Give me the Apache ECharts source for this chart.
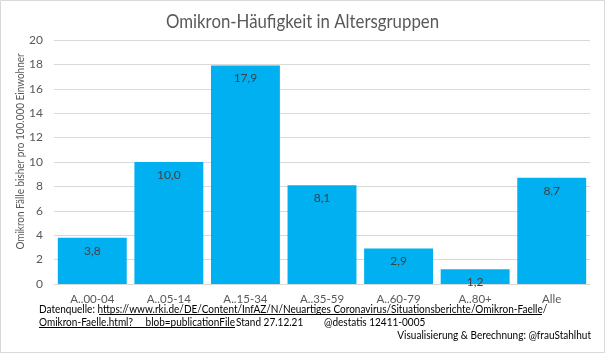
<!DOCTYPE html>
<html>
<head>
<meta charset="utf-8">
<script src="https://cdn.jsdelivr.net/npm/echarts@6/dist/echarts.min.js"></script>
<style>
  html, body { margin: 0; padding: 0; background: #fff; }
  #chart { width: 605px; height: 353px; }
</style>
</head>
<body>
<div id="chart"></div>
<script>
// Omikron-Häufigkeit nach Altersgruppe (Fälle pro 100.000 Einwohner)
const categories = ["A..00-04", "A..05-14", "A..15-34", "A..35-59", "A..60-79", "A..80+", "Alle"];
const values = [3.8, 10.0, 17.9, 8.1, 2.9, 1.2, 8.7];
const yTicks = { min: 0, max: 20, interval: 2 };

const FONT = "Lato, 'Liberation Sans', sans-serif";
const GREY = "#595959";
const fmt = (v) => v.toFixed(1).replace(".", ",");

const chart = echarts.init(document.getElementById("chart"), null, { renderer: "canvas" });

// Lato is wider than the original Calibri, so texts get squeezed horizontally
function txt(text, x, y, opt) {
  opt = opt || {};
  return {
    type: "text", x: x, y: y, scaleX: opt.scale || 0.955, rotation: opt.rotation || 0, silent: true,
    style: {
      text: text, fontFamily: FONT, fontSize: opt.size || 10.5, fill: opt.color || "#000",
      textAlign: opt.align || "left", textVerticalAlign: "middle",
    },
  };
}
function underline(x1, x2, y) {
  return { type: "line", silent: true, shape: { x1: x1, y1: y, x2: x2, y2: y },
    style: { stroke: "#000", lineWidth: 1 } };
}

chart.setOption({
  backgroundColor: "#fff",
  animation: false,
  textStyle: { fontFamily: FONT },
  grid: { left: 54, right: 15, top: 40, bottom: 69 },
  xAxis: {
    type: "category",
    data: categories,
    axisTick: { show: false },
    axisLine: { lineStyle: { color: "#d9d9d9" } },
    axisLabel: { color: GREY, fontSize: 11.5, fontFamily: FONT, margin: 9 },
  },
  yAxis: {
    type: "value",
    min: yTicks.min, max: yTicks.max, interval: yTicks.interval,
    axisLabel: { color: GREY, fontSize: 12, fontFamily: FONT, margin: 11 },
    splitLine: { lineStyle: { color: "#d9d9d9" } },
  },
  series: [{
    type: "bar",
    data: values,
    barCategoryGap: "10%",
    itemStyle: { color: "#00b0f0" },
    label: {
      show: true, position: "insideTop", distance: 7,
      color: "#404040", fontSize: 12, fontFamily: FONT,
      formatter: (p) => fmt(p.value),
    },
  }],
  graphic: [
    { type: "rect", silent: true, shape: { x: 0.5, y: 0.5, width: 604, height: 352 },
      style: { fill: null, stroke: "#d9d9d9", lineWidth: 1 } },
    txt("Omikron-Häufigkeit in Altersgruppen", 302.5, 22, { size: 19, scale: 0.885, align: "center", color: GREY }),
    txt("Omikron Fälle bisher pro 100.000 Einwohner", 20.5, 151.5,
      { size: 12, scale: 0.83, align: "center", color: GREY, rotation: Math.PI / 2 }),
    txt("Datenquelle: https://www.rki.de/DE/Content/InfAZ/N/Neuartiges Coronavirus/Situationsberichte/Omikron-Faelle/", 39, 309.5),
    underline(99, 542, 314.5),
    txt("Omikron-Faelle.html?", 39, 322.5),
    txt("blob=publicationFile", 235, 322.5, { align: "right" }),
    underline(39, 235, 327.5),
    txt("Stand 27.12.21", 236, 322.5),
    txt("@destatis 12411-0005", 324, 322.5),
    txt("Visualisierung & Berechnung: @frauStahlhut", 591, 336, { align: "right" }),
  ],
});
</script>
</body>
</html>
